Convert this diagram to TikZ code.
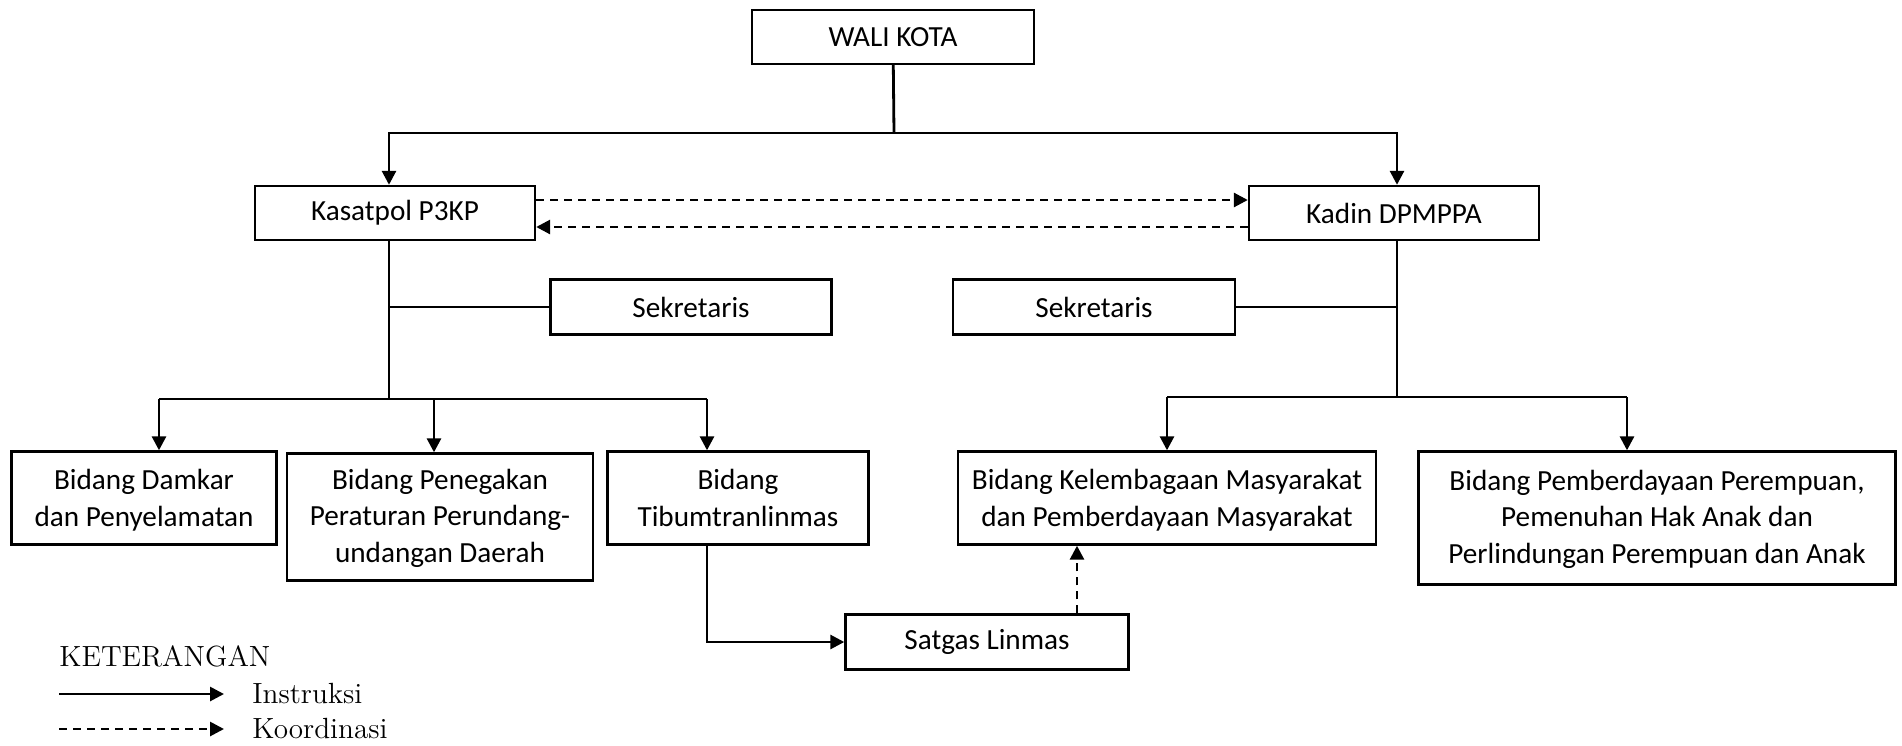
\documentclass[tikz,border=0pt]{standalone}
\usepackage{fontspec}
\newfontfamily\boxfont{Carlito}
\usetikzlibrary{arrows.meta}

\tikzset{
  kotak/.style={draw,line width=1.2pt,inner sep=0pt,align=center,
    font=\boxfont\fontsize{14.6}{18.2}\selectfont},
  dua/.style={text depth=0pt,text height=28pt},
  tiga/.style={text depth=0pt,text height=45pt},
  garis/.style={line width=1.4pt},
  panah/.style={garis,-{Triangle[length=7pt,width=7pt]}},
  koord/.style={panah,dash pattern=on 4pt off 3pt}
}

\begin{document}
\begin{tikzpicture}[x=0.5pt,y=-0.5pt]
      \useasboundingbox (0,0) rectangle (1902,745);

      \begin{scope}[every node/.style={kotak}]
        \node[minimum width=141pt,minimum height=27pt] (wali) at (893,37) {WALI KOTA};
        \node[minimum width=140pt,minimum height=27pt] (kasat) at (395,213) {Kasatpol P3KP};
        \node[minimum width=145pt,minimum height=27pt] (kadin) at (1394,213) {Kadin DPMPPA};
        \node[minimum width=140.5pt,minimum height=27.5pt] (sek1) at (691,307) {Sekretaris};
        \node[minimum width=141pt,minimum height=27.5pt] (sek2) at (1094,307) {Sekretaris};
        \node[dua,minimum width=132.5pt,minimum height=46.5pt] (damkar) at (144,498) {Bidang Damkar\\dan Penyelamatan};
        \node[tiga,minimum width=153pt,minimum height=63.5pt] (tegak) at (440,517) {Bidang Penegakan\\Peraturan Perundang-\\undangan Daerah};
        \node[dua,minimum width=130.5pt,minimum height=46.5pt] (tibum) at (738,498) {Bidang\\Tibumtranlinmas};
        \node[dua,minimum width=209pt,minimum height=46.5pt] (lembaga) at (1167,498) {Bidang Kelembagaan Masyarakat\\dan Pemberdayaan Masyarakat};
        \node[tiga,minimum width=238.5pt,minimum height=66.5pt] (daya) at (1657,518) {Bidang Pemberdayaan Perempuan,\\Pemenuhan Hak Anak dan\\Perlindungan Perempuan dan Anak};
        \node[minimum width=141.5pt,minimum height=27.5pt] (satgas) at (987,642) {Satgas Linmas};
      \end{scope}

      \coordinate (atas) at (894,133);
      \coordinate (kiri) at (389,399);
      \coordinate (kanan) at (1397,397);
      \coordinate (k1) at (159,399);
      \coordinate (k2) at (434,399);
      \coordinate (k3) at (707,399);
      \coordinate (r1) at (1167,397);
      \coordinate (r2) at (1627,397);

      \draw[garis] (wali) -- (atas);
      \draw[panah] (atas) -| (kasat.north -| kiri);
      \draw[panah] (atas) -| (kadin.north -| kanan);

      \draw[koord] ([yshift=6.5pt]kasat.east) -- ([yshift=6.5pt]kasat.east -| kadin.west);
      \draw[koord] ([yshift=-7pt]kadin.west) -- ([yshift=-7pt]kadin.west -| kasat.east);

      \draw[garis] (kasat.south -| kiri) -- (kiri);
      \draw[garis] (sek1.west -| kiri) -- (sek1.west);
      \draw[garis] (kadin.south -| kanan) -- (kanan);
      \draw[garis] (sek2.east) -- (sek2.east -| kanan);

      \draw[garis] (k1) -- (k3);
      \draw[panah] (k1) -- (k1 |- damkar.north);
      \draw[panah] (k2) -- (k2 |- tegak.north);
      \draw[panah] (k3) -- (k3 |- tibum.north);

      \draw[garis] (r1) -- (r2);
      \draw[panah] (r1) -- (lembaga.north);
      \draw[panah] (r2) -- (r2 |- daya.north);

      \draw[panah] (k3 |- tibum.south) |- (satgas.west);
      \draw[koord] ([xshift=45pt]satgas.north) -- ([xshift=45pt]satgas.north |- lembaga.south);

      \node[anchor=west,inner sep=0pt,font=\fontsize{14.6}{16}\selectfont] (ket) at (59,656) {KETERANGAN};
      \coordinate (l1a) at (59,694);
      \coordinate (l1b) at (224,694);
      \coordinate (l2a) at (59,729);
      \coordinate (l2b) at (224,729);
      \draw[panah] (l1a) -- (l1b);
      \draw[koord] (l2a) -- (l2b);
      \node[anchor=west,inner sep=0pt,font=\fontsize{14.6}{16}\selectfont] (ins) at (252,694) {Instruksi};
      \node[anchor=west,inner sep=0pt,font=\fontsize{14.6}{16}\selectfont] (kor) at (252,729) {Koordinasi};

    \end{tikzpicture}
\end{document}
